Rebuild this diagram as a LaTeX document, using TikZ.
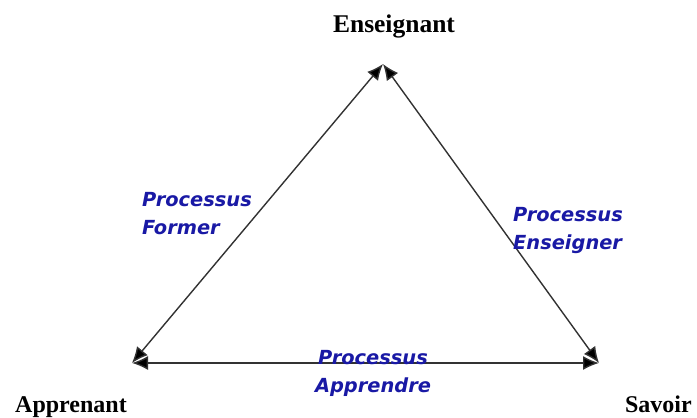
\documentclass[tikz,border=0pt]{standalone}
\usepackage{fontspec}
\setmainfont{Liberation Serif}
\newfontfamily\lblfont{DejaVu Sans}
\usetikzlibrary{arrows.meta}
\definecolor{lblblue}{RGB}{25,25,165}
\definecolor{edgegray}{RGB}{50,50,50}
\tikzset{
  vtx/.style={font=\bfseries\fontsize{24}{28}\selectfont, inner sep=0pt},
  proc/.style={font=\lblfont\bfseries\itshape\fontsize{19.4}{28}\selectfont, text=lblblue, inner sep=0pt, align=left},
  edge/.style={draw=edgegray, line width=1.4pt, {Latex[length=16pt,width=14pt,fill=black]}-{Latex[length=16pt,width=14pt,fill=black]}}
}
\begin{document}
\begin{tikzpicture}[x=1pt,y=-1pt]
\useasboundingbox (0,0) rectangle (697,418);
\coordinate (T) at (383,64);
\coordinate (L) at (132,363);
\coordinate (R) at (599,363);
\node[vtx, font=\bfseries\fontsize{25.5}{28}\selectfont, anchor=base] (ens) at (394,32) {Enseignant};
\node[vtx, anchor=base west] (app) at (15,412) {Apprenant};
\node[vtx, anchor=base east] (sav) at (692,412) {Savoir};
\draw[edge] (L) -- (T);
\draw[edge] (T) -- (R);
\draw[edge] (L) -- (R);
\node[proc, anchor=north west] (pf) at (142,192) {Processus\\Former};
\node[proc, anchor=north west] (pe) at (513,207) {Processus\\Enseigner};
\node[proc, align=center, anchor=north] (pa) at (373,350) {Processus\\Apprendre};
\end{tikzpicture}
\end{document}
